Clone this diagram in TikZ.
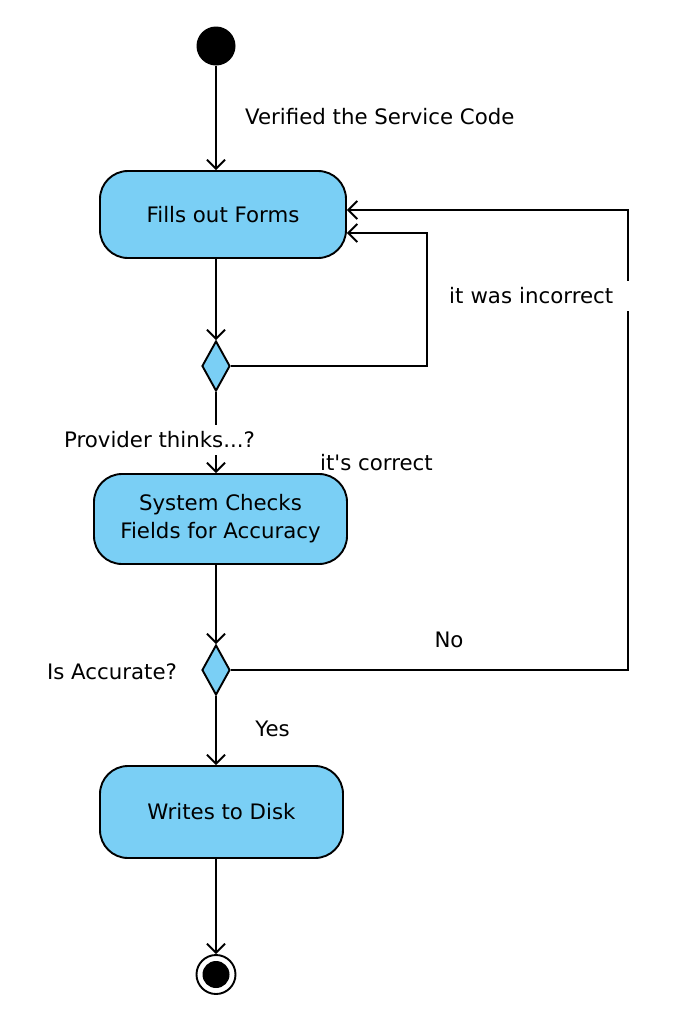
\documentclass[tikz,border=0pt]{standalone}
\usepackage{fontspec}
\setmainfont{DejaVu Sans}
\usetikzlibrary{shapes.geometric,arrows.meta}
\definecolor{actblue}{RGB}{122,207,245}

\begin{document}
\begin{tikzpicture}[x=1pt,y=-1pt,
  activity/.style={draw, line width=1.9pt, fill=actblue, rounded corners=28pt,
    inner sep=0pt, align=center, font=\fontsize{21.3}{28}\selectfont},
  decision/.style={draw, line width=1.9pt, fill=actblue, diamond, inner sep=0pt,
    minimum width=28pt, minimum height=50pt},
  flow/.style={line width=1.9pt, -{Straight Barb[length=9pt,width=18pt]}},
  guard/.style={inner sep=0pt, font=\fontsize{21.3}{28}\selectfont}]

\useasboundingbox (0,0) rectangle (696,1018);

% 起点
\node[circle, fill=black, minimum size=39pt, inner sep=0pt] (start) at (216,46) {};

% 三个活动
\node[activity, minimum width=246pt, minimum height=87pt] (fills) at (223,214.5) {Fills out Forms};
\node[activity, minimum width=253pt, minimum height=90pt] (checks) at (220.5,519) {System Checks\\Fields for Accuracy};
\node[activity, minimum width=243pt, minimum height=92pt] (writes) at (221.5,812) {Writes to Disk};

% 两个判断
\node[decision] (think) at (216,366) {};
\node[decision] (accurate) at (216,670) {};

% 终点
\node[circle, draw, line width=1.9pt, minimum size=39pt, inner sep=0pt] (stop) at (216,974.5) {};
\fill[black] (stop) circle(13.5);

% 连线
\draw[flow] (start) -- (start |- fills.north);
\draw[flow] (think |- fills.south) -- (think.north);
\draw[flow] (think.east) -- ++(196,0) |- ([yshift=-18.5pt]fills.east);
\draw[flow] (think.south) -- (think |- checks.north);
\draw[flow] (accurate |- checks.south) -- (accurate.north);
\draw[flow] (accurate.east) -- ++(397,0) |- ([yshift=4.5pt]fills.east);
\draw[flow] (accurate.south) -- (accurate |- writes.north);
\draw[flow] (stop |- writes.south) -- (stop.north);

% 文字
\node[guard, anchor=west] (verified) at (245,117) {Verified the Service Code};
\node[guard, fill=white, inner ysep=6.5pt] (thinks) at (159.5,440) {Provider thinks...?};
\node[guard] (correct) at (376.5,463) {it\textquotesingle s correct};
\node[guard, fill=white, inner ysep=7pt, text width=182pt, align=left, anchor=west] (incorrect) at (449,296) {it was incorrect};
\node[guard] (isaccurate) at (112,672) {Is Accurate?};
\node[guard] (no) at (449,640) {No};
\node[guard] (yes) at (272.5,729) {Yes};

\end{tikzpicture}
\end{document}
